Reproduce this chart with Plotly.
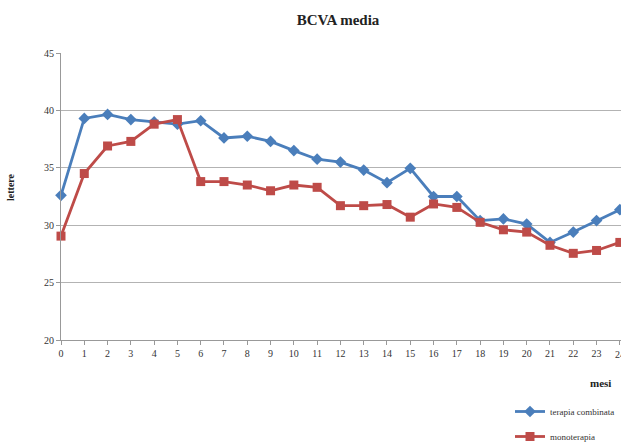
import plotly.graph_objects as go

mesi = list(range(0, 25))
terapia_combinata = [32.6, 39.3, 39.65, 39.2, 39.0, 38.8, 39.1, 37.6, 37.75, 37.3, 36.5, 35.75,
                     35.5, 34.8, 33.7, 34.95, 32.5, 32.5, 30.4, 30.55, 30.1, 28.5, 29.4, 30.4, 31.35]
monoterapia = [29.05, 34.5, 36.9, 37.3, 38.8, 39.2, 33.8, 33.8, 33.5, 33.0, 33.5, 33.3,
               31.7, 31.7, 31.8, 30.7, 31.85, 31.55, 30.25, 29.6, 29.4, 28.25, 27.55, 27.8, 28.5]
y_ticks = [20, 25, 30, 35, 40, 45]

W, H = 621, 448
L, R, T, B = 61, 0, 53, 108
font_fam = "Liberation Serif, DejaVu Serif, serif"

fig = go.Figure()
fig.add_trace(go.Scatter(
    x=mesi, y=terapia_combinata, mode="lines+markers", name="terapia combinata",
    line=dict(color="#4a7ebb", width=2.8),
    marker=dict(symbol="diamond", size=9, color="#4a7ebb"),
    cliponaxis=False, legendgroup="a"))
fig.add_trace(go.Scatter(
    x=mesi, y=monoterapia, mode="lines+markers", name="monoterapia",
    line=dict(color="#be4b48", width=2.8),
    marker=dict(symbol="square", size=9, color="#be4b48"),
    cliponaxis=False, legendgroup="b"))

pw = W - L - R
ph = H - T - B
x_max = 24.05
fig.update_layout(
    width=W, height=H,
    margin=dict(l=L, r=R, t=T, b=B, pad=0, autoexpand=False),
    paper_bgcolor="white", plot_bgcolor="white",
    font=dict(family=font_fam, color="#333333", size=10),
    title=dict(text="<b>BCVA media</b>", x=338 / W, xanchor="center",
               y=1 - 20 / H, yanchor="middle", font=dict(size=15, color="#222222", family=font_fam)),
    showlegend=True,
    legend=dict(x=(510 - L) / pw, xanchor="left", y=(ph - (397 - T)) / ph, yanchor="top",
                font=dict(size=9, color="#333333", family=font_fam),
                tracegroupgap=6, traceorder="grouped", bgcolor="rgba(0,0,0,0)",
                itemwidth=30),
    xaxis=dict(range=[0, x_max], tickmode="array", tickvals=mesi, ticktext=[str(m) for m in mesi],
               showgrid=False, zeroline=False, showline=True, linecolor="#999999", linewidth=1,
               ticks="outside", ticklen=4, tickcolor="#999999", automargin=False,
               tickfont=dict(size=10, color="#333333", family=font_fam)),
    yaxis=dict(range=[20, 45], tickvals=y_ticks, showgrid=True, gridcolor="#b3b3b3", gridwidth=1,
               zeroline=False, showline=True, linecolor="#999999", linewidth=1,
               ticks="outside", ticklen=4, tickcolor="#999999", automargin=False,
               tickfont=dict(size=10, color="#333333", family=font_fam)),
    annotations=[
        dict(text="<b>lettere</b>", xref="paper", yref="paper", x=(10 - L) / pw, y=(ph - (187 - T)) / ph,
             xanchor="center", yanchor="middle", textangle=-90, showarrow=False,
             font=dict(size=10, color="#222222", family=font_fam)),
        dict(text="<b>mesi</b>", xref="paper", yref="paper", x=(600 - L) / pw, y=(ph - (383 - T)) / ph,
             xanchor="center", yanchor="middle", showarrow=False,
             font=dict(size=11, color="#222222", family=font_fam)),
        dict(text=str(mesi[-1]), xref="x", yref="paper", x=mesi[-1], y=0, yshift=-7,
             xanchor="center", yanchor="top", showarrow=False,
             font=dict(size=10, color="#333333", family=font_fam)),
    ],
)

fig.write_html("out.html")
